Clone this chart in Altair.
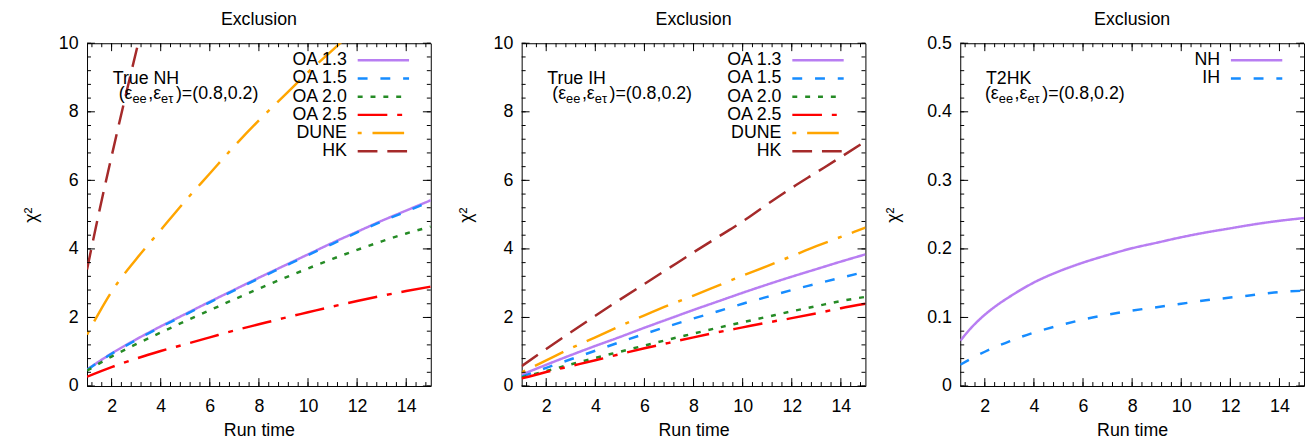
import altair as alt
import pandas as pd

FONT = "Liberation Sans"

# ---------------- data ----------------
RUN_TIME = [1, 2, 3, 4, 5, 6, 7, 8, 9, 10, 11, 12, 13, 14, 15]
DUNE_NH_TIME = [1, 1.5, 2, 3, 4, 5, 6, 7, 8, 9, 10, 11, 12, 13, 14, 15]
HK_NH_TIME = [1, 1.5, 2, 2.5, 3, 3.5, 4]
T2HK_TIME = [1, 1.5, 2, 2.5, 3, 3.5, 4, 5, 6, 7, 8, 9, 10, 11, 12, 13, 14, 15]

# Panel 1: True NH
NH_OA13 = [0.48, 0.95, 1.36, 1.74, 2.1, 2.46, 2.81, 3.16, 3.5, 3.84, 4.18, 4.5, 4.82, 5.12, 5.42]
NH_OA15 = [0.47, 0.94, 1.34, 1.72, 2.08, 2.44, 2.79, 3.14, 3.48, 3.82, 4.15, 4.48, 4.8, 5.09, 5.39]
NH_OA20 = [0.45, 0.86, 1.22, 1.56, 1.89, 2.21, 2.53, 2.84, 3.14, 3.43, 3.71, 3.97, 4.22, 4.45, 4.65]
NH_OA25 = [0.27, 0.55, 0.8, 1.02, 1.22, 1.42, 1.62, 1.8, 1.98, 2.15, 2.32, 2.48, 2.63, 2.77, 2.9]
NH_DUNE = [1.5, 2.15, 2.75, 3.7, 4.55, 5.4, 6.2, 7.0, 7.75, 8.45, 9.15, 9.8, 10.45, 11.05, 11.6, 12.1]
NH_HK = [3.4, 5.1, 6.7, 8.25, 9.75, 11.2, 12.6]

# Panel 2: True IH
IH_OA13 = [0.33, 0.62, 0.9, 1.17, 1.43, 1.7, 1.96, 2.22, 2.47, 2.72, 2.96, 3.19, 3.41, 3.63, 3.84]
IH_OA15 = [0.27, 0.53, 0.78, 1.03, 1.28, 1.52, 1.75, 1.97, 2.18, 2.4, 2.6, 2.8, 2.98, 3.16, 3.33]
IH_OA20 = [0.25, 0.44, 0.63, 0.82, 1.0, 1.18, 1.36, 1.53, 1.7, 1.86, 2.02, 2.18, 2.33, 2.48, 2.6]
IH_OA25 = [0.22, 0.41, 0.58, 0.75, 0.93, 1.1, 1.26, 1.42, 1.57, 1.71, 1.85, 1.98, 2.12, 2.27, 2.4]
IH_DUNE = [0.4, 0.75, 1.1, 1.42, 1.75, 2.06, 2.36, 2.64, 2.93, 3.22, 3.5, 3.79, 4.08, 4.35, 4.62]
IH_HK = [0.58, 1.08, 1.57, 2.05, 2.52, 2.98, 3.44, 3.9, 4.35, 4.8, 5.3, 5.78, 6.23, 6.68, 7.14]

# Panel 3: T2HK
T2HK_NH = [0.066, 0.087, 0.104, 0.118, 0.13, 0.141, 0.151, 0.167, 0.18, 0.191, 0.201, 0.209,
           0.217, 0.224, 0.23, 0.236, 0.241, 0.245]
T2HK_IH = [0.031, 0.041, 0.05, 0.058, 0.065, 0.072, 0.078, 0.088, 0.097, 0.104, 0.11, 0.115,
           0.12, 0.125, 0.129, 0.133, 0.137, 0.139]

X_MAJOR = [2, 4, 6, 8, 10, 12, 14]
Y_MAJOR_10 = [0, 2, 4, 6, 8, 10]
Y_MAJOR_05 = [0, 0.1, 0.2, 0.3, 0.4, 0.5]

COLORS = {"OA 1.3": "#b87ef2", "OA 1.5": "#168cff", "OA 2.0": "#258b25",
          "OA 2.5": "#ff0000", "DUNE": "#ffa500", "HK": "#a52a2a",
          "NH": "#b87ef2", "IH": "#168cff"}
DASHES = {"OA 1.3": [1, 0], "OA 1.5": [10, 13], "OA 2.0": [5, 8],
          "OA 2.5": [30, 10, 5, 10], "DUNE": [4, 11, 32, 11], "HK": [20, 10],
          "NH": [1, 0], "IH": [10, 13]}

W, H = 348, 347
X_MINOR = [round(1.2 + 0.4 * k, 2) for k in range(35)]
Y_MINOR_10 = [round(0.4 * k, 2) for k in range(26)]
Y_MINOR_05 = [round(0.02 * k, 3) for k in range(26)]


def make_panel(series, ymajor, yminor, ydomain, ylabel_expr, ytitle_pad, line1, base2):
    rows = []
    for name, xs, ys in series:
        for a, b in zip(xs, ys):
            rows.append({"series": name, "x": a, "y": b})
    df = pd.DataFrame(rows)
    names = [s[0] for s in series]

    sx = alt.Scale(domain=[1, 15], nice=False, zero=False)
    sy = alt.Scale(domain=ydomain, nice=False, zero=False)
    ax = alt.Axis(values=X_MAJOR, title="Run time", labelPadding=12, titlePadding=6,
                  ticks=False, domain=False, grid=False, labelOverlap=False)
    ay = alt.Axis(values=ymajor, title="χ²", labelPadding=9, titlePadding=ytitle_pad,
                  ticks=False, domain=False, grid=False, labelExpr=ylabel_expr,
                  labelOverlap=False)
    X = alt.X("x:Q", scale=sx, axis=ax)
    Y = alt.Y("y:Q", scale=sy, axis=ay)

    layers = [
        alt.Chart(df).mark_line(clip=True, strokeWidth=2.5, interpolate="monotone").encode(
            x=X, y=Y,
            color=alt.Color("series:N", scale=alt.Scale(domain=names,
                            range=[COLORS[n] for n in names]), legend=None),
            strokeDash=alt.StrokeDash("series:N", scale=alt.Scale(domain=names,
                                      range=[DASHES[n] for n in names]), legend=None),
        )
    ]

    # inward ticks on all four sides
    for vals, L in ((X_MAJOR, 8), (X_MINOR, 4)):
        d = pd.DataFrame({"x": vals})
        layers.append(alt.Chart(d).mark_rule(color="black", strokeWidth=1).encode(
            x=X, y=alt.value(H), y2=alt.value(H - L)))
        layers.append(alt.Chart(d).mark_rule(color="black", strokeWidth=1).encode(
            x=X, y=alt.value(0), y2=alt.value(L)))
    for vals, L in ((ymajor, 8), (yminor, 4)):
        d = pd.DataFrame({"y": vals})
        layers.append(alt.Chart(d).mark_rule(color="black", strokeWidth=1).encode(
            y=Y, x=alt.value(0), x2=alt.value(L)))
        layers.append(alt.Chart(d).mark_rule(color="black", strokeWidth=1).encode(
            y=Y, x=alt.value(W), x2=alt.value(W - L)))

    # legend (label on the left, line sample on the right)
    for i, name in enumerate(names):
        yrow = 17.3 + 18.4 * i
        d = pd.DataFrame({"label": [name]})
        layers.append(alt.Chart(d).mark_text(align="right", baseline="middle", font=FONT,
                                             fontSize=18, color="black").encode(
            text="label:N", x=alt.value(263), y=alt.value(yrow)))
        layers.append(alt.Chart(d).mark_rule(color=COLORS[name], strokeDash=DASHES[name],
                                             strokeWidth=2.5).encode(
            x=alt.value(274), x2=alt.value(326), y=alt.value(yrow)))

    # annotation
    pieces = [(line1, 26, 41, 18),
              ("(ε", base2, 56, 18), ("ee", base2 + 14, 60, 13),
              (",ε", base2 + 30, 56, 18), ("eτ", base2 + 43, 60, 13),
              (")=(0.8,0.2)", base2 + 58, 56, 18)]
    for txt, px, py, fs in pieces:
        d = pd.DataFrame({"t": [txt]})
        layers.append(alt.Chart(d).mark_text(align="left", baseline="alphabetic", font=FONT,
                                             fontSize=fs, color="black").encode(
            text="t:N", x=alt.value(px), y=alt.value(py)))

    return alt.layer(*layers).properties(
        width=W, height=H,
        title=alt.TitleParams("Exclusion", font=FONT, fontSize=18, fontWeight="normal",
                              color="black", offset=5, anchor="middle"))


p1 = make_panel(
    [("OA 1.3", RUN_TIME, NH_OA13), ("OA 1.5", RUN_TIME, NH_OA15),
     ("OA 2.0", RUN_TIME, NH_OA20), ("OA 2.5", RUN_TIME, NH_OA25),
     ("DUNE", DUNE_NH_TIME, NH_DUNE), ("HK", HK_NH_TIME, NH_HK)],
    Y_MAJOR_10, Y_MINOR_10, [0, 10], "format(datum.value, 'd')", 18, "True NH", 32)
p2 = make_panel(
    [("OA 1.3", RUN_TIME, IH_OA13), ("OA 1.5", RUN_TIME, IH_OA15),
     ("OA 2.0", RUN_TIME, IH_OA20), ("OA 2.5", RUN_TIME, IH_OA25),
     ("DUNE", RUN_TIME, IH_DUNE), ("HK", RUN_TIME, IH_HK)],
    Y_MAJOR_10, Y_MINOR_10, [0, 10], "format(datum.value, 'd')", 18, "True IH", 31)
p3 = make_panel(
    [("NH", T2HK_TIME, T2HK_NH), ("IH", T2HK_TIME, T2HK_IH)],
    Y_MAJOR_05, Y_MINOR_05, [0, 0.5],
    "datum.value == 0 ? '0' : format(datum.value, '.1f')", 24, "T2HK", 25)

chart = alt.hconcat(alt.hconcat(p1, p2, spacing=25), p3, spacing=18).properties(
    padding={"left": 14, "top": 0, "right": 0, "bottom": 0}
).configure_view(stroke="black", strokeWidth=1).configure_axis(
    labelFont=FONT, titleFont=FONT, labelFontSize=18, titleFontSize=18,
    titleFontWeight="normal", labelColor="black", titleColor="black", tickSize=0
)

chart.save("out.html", embed_options={"renderer": "svg", "actions": False})
